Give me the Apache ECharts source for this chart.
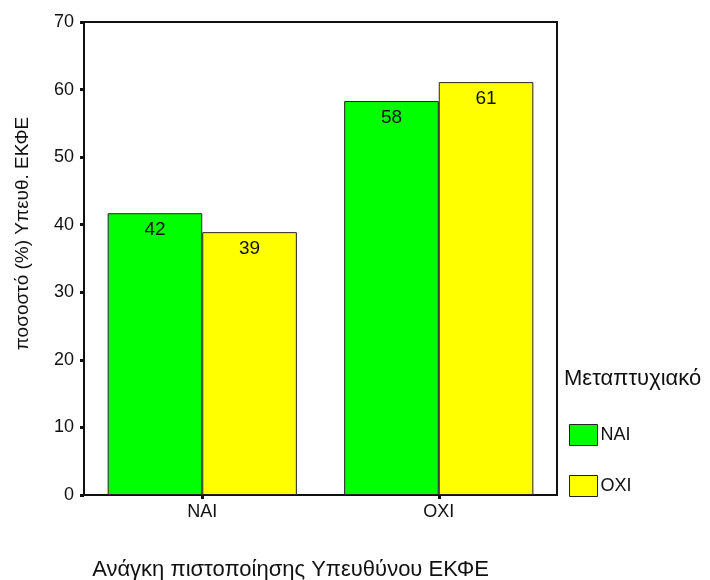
<!DOCTYPE html>
<html>
<head>
<meta charset="utf-8">
<script src="https://cdn.jsdelivr.net/npm/echarts@6/dist/echarts.min.js"></script>
<style>
html,body{margin:0;padding:0;background:#fff;}
#chart{width:710px;height:580px;}
</style>
</head>
<body>
<div id="chart"></div>
<script>
var categories = ['ΝΑΙ', 'ΟΧΙ'];
var seriesNames = ['ΝΑΙ', 'ΟΧΙ'];
var valuesNai = [41.7, 58.3];
var valuesOxi = [38.9, 61.1];
var yTicks = [0, 10, 20, 30, 40, 50, 60, 70];
var xTitle = 'Ανάγκη πιστοποίησης Υπευθύνου ΕΚΦΕ';
var yTitle = 'ποσοστό (%) Υπευθ. ΕΚΦΕ';
var legendTitle = 'Μεταπτυχιακό';

var FONT = '"Liberation Sans", Arial, sans-serif';
var chart = echarts.init(document.getElementById('chart'), null, {renderer: 'canvas'});

function barSeries(name, data, color) {
  return {
    name: name,
    type: 'bar',
    data: data,
    barGap: '0%',
    barCategoryGap: '20%',
    itemStyle: {color: color, borderColor: '#222', borderWidth: 1},
    label: {
      show: true,
      position: 'insideTop',
      distance: 7,
      color: '#111',
      fontFamily: FONT,
      fontSize: 19,
      formatter: function (p) { return Math.round(p.value); }
    },
    emphasis: {disabled: true}
  };
}

chart.setOption({
  animation: false,
  backgroundColor: '#fff',
  title: {
    text: legendTitle,
    left: 564,
    top: 368,
    padding: 0,
    textStyle: {fontFamily: FONT, fontSize: 22, fontWeight: 'normal', color: '#111'}
  },
  legend: {
    orient: 'vertical',
    left: 569,
    top: 424,
    padding: 0,
    itemWidth: 28,
    itemHeight: 21,
    itemGap: 29,
    data: seriesNames,
    icon: 'rect',
    itemStyle: {borderColor: '#222', borderWidth: 1},
    textStyle: {fontFamily: FONT, fontSize: 18, color: '#111', padding: [0, 0, 0, -2]}
  },
  grid: {
    left: 84,
    right: 153,
    top: 22,
    bottom: 85,
    containLabel: false,
    outerBoundsMode: 'none',
    show: true,
    borderColor: '#111',
    borderWidth: 2
  },
  xAxis: {
    type: 'category',
    data: categories,
    name: xTitle,
    nameLocation: 'middle',
    nameGap: 64,
    nameTextStyle: {fontFamily: FONT, fontSize: 22, color: '#111', padding: [0, 60, 0, 0]},
    axisLine: {lineStyle: {color: '#111', width: 2}},
    axisTick: {show: true, alignWithLabel: true, length: 4, lineStyle: {color: '#111', width: 3}},
    axisLabel: {fontFamily: FONT, fontSize: 18, color: '#111', margin: 8}
  },
  yAxis: {
    type: 'value',
    min: yTicks[0],
    max: yTicks[yTicks.length - 1],
    interval: 10,
    name: yTitle,
    nameLocation: 'middle',
    nameGap: 52,
    nameTextStyle: {fontFamily: FONT, fontSize: 19, color: '#111', padding: [0, 0, 0, 50]},
    axisLine: {show: true, lineStyle: {color: '#111', width: 2}},
    axisTick: {show: true, length: 4, lineStyle: {color: '#111', width: 3}},
    axisLabel: {fontFamily: FONT, fontSize: 18, color: '#111', margin: 10},
    splitLine: {show: false}
  },
  series: [
    barSeries(seriesNames[0], valuesNai, '#00ff00'),
    barSeries(seriesNames[1], valuesOxi, '#ffff00')
  ]
});
</script>
</body>
</html>
